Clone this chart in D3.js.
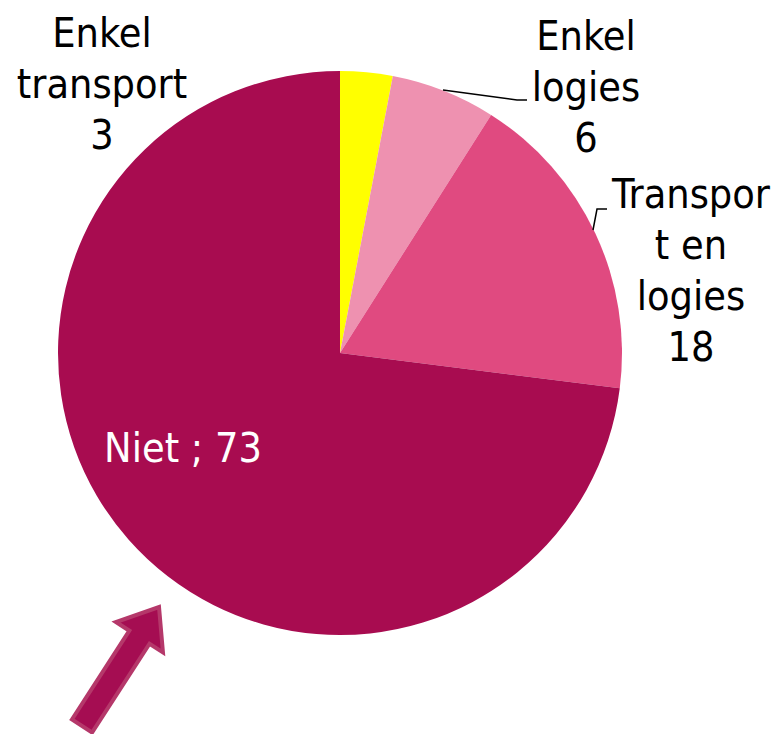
<!DOCTYPE html>
<html>
<head>
<meta charset="utf-8">
<script src="https://cdn.jsdelivr.net/npm/d3@7"></script>
<style>
  body { margin: 0; background: #fff; }
  svg text { font-family: "DejaVu Sans Condensed", "DejaVu Sans", sans-serif; }
</style>
</head>
<body>
<div id="chart"></div>
<script>
// data
const categories = ['Enkel transport', 'Enkel logies', 'Transport en logies', 'Niet'];
const values = [3, 6, 18, 73];
const colors = ['#ffff00', '#ee91b0', '#e04a80', '#a80c50'];

const width = 779, height = 734;
const cx = 340, cy = 353, radius = 282;

const svg = d3.select('#chart').append('svg')
  .attr('width', width)
  .attr('height', height);

const g = svg.append('g').attr('transform', `translate(${cx},${cy})`);

const pie = d3.pie().sort(null).value(d => d);
const arc = d3.arc().innerRadius(0).outerRadius(radius);
const arcs = pie(values);

g.selectAll('path.slice')
  .data(arcs)
  .enter()
  .append('path')
  .attr('class', 'slice')
  .attr('d', arc)
  .attr('fill', (d, i) => colors[i]);

// labels (placed by hand like the original)
const labels = [
  { lines: ['Enkel', 'transport', '3'], x: 102, y: 47, fill: '#000' },
  { lines: ['Enkel', 'logies', '6'], x: 586, y: 50, fill: '#000' },
  { lines: ['Transpor', 't en', 'logies', '18'], x: 691, y: 208, fill: '#000' },
  { lines: ['Niet ; 73'], x: 183, y: 462, fill: '#fff' }
];

labels.forEach(l => {
  const t = svg.append('text')
    .attr('x', l.x)
    .attr('y', l.y)
    .attr('text-anchor', 'middle')
    .attr('font-size', 41)
    .attr('fill', l.fill);
  l.lines.forEach((s, i) => {
    t.append('tspan').attr('x', l.x).attr('y', l.y + i * 51).text(s);
  });
});

// leader lines
const line = d3.line();
svg.append('path')
  .attr('d', line([[443, 90], [517, 100], [527, 100]]))
  .attr('fill', 'none').attr('stroke', '#000').attr('stroke-width', 1.5);
svg.append('path')
  .attr('d', line([[593, 230], [597, 209], [607, 209]]))
  .attr('fill', 'none').attr('stroke', '#000').attr('stroke-width', 1.5);

// arrow
const from = [82, 726], to = [159, 607];
const len = Math.hypot(to[0] - from[0], to[1] - from[1]);
const ang = Math.atan2(to[1] - from[1], to[0] - from[0]) * 180 / Math.PI;
const sw = 12, hw = 28, hl = 36;
svg.append('path')
  .attr('transform', `translate(${from[0]},${from[1]}) rotate(${ang})`)
  .attr('d', line([[0, -sw], [len - hl, -sw], [len - hl, -hw], [len, 0], [len - hl, hw], [len - hl, sw], [0, sw]]) + 'Z')
  .attr('fill', '#a50d52')
  .attr('stroke', '#b5386a')
  .attr('stroke-width', 4)
  .attr('stroke-linejoin', 'miter');
</script>
</body>
</html>
